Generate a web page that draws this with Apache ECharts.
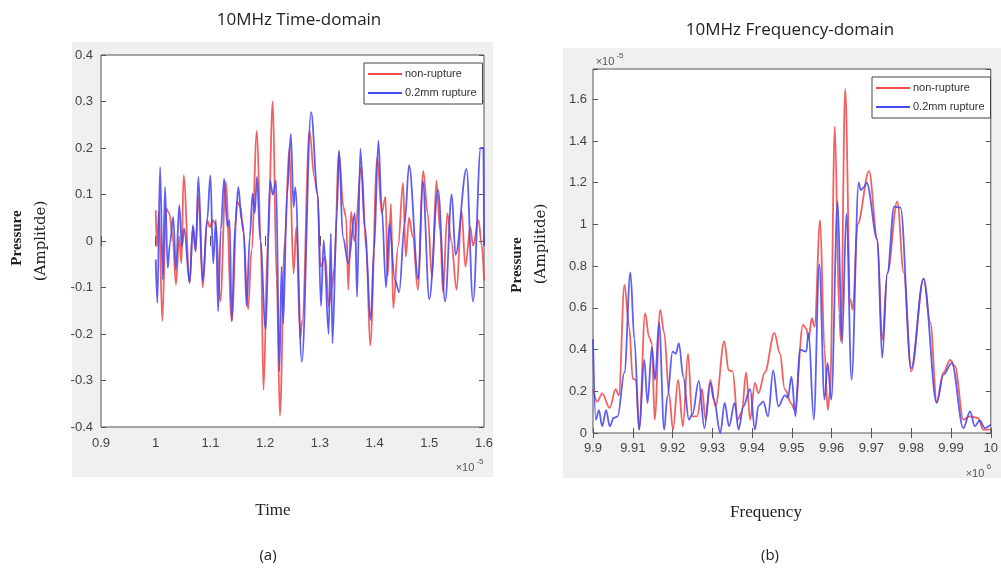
<!DOCTYPE html>
<html>
<head>
<meta charset="utf-8">
<script src="https://cdn.jsdelivr.net/npm/echarts@6/dist/echarts.min.js"></script>
<style>html,body{margin:0;padding:0;background:#fff;}#c{width:1001px;height:575px;}</style>
</head>
<body>
<div id="c"></div>
<script>
// ---- Time domain (t in 1e-5 s, pressure amplitude) ----
const timeNonRupture = [
[1.000,0.066],[1.002,-0.012],[1.006,0.063],[1.012,-0.172],[1.019,0.070],[1.025,0.059],[1.031,0.009],[1.037,-0.094],
[1.043,0.010],[1.047,-0.048],[1.051,0.141],[1.062,-0.090],[1.068,0.030],[1.073,-0.020],[1.078,0.098],[1.086,-0.100],
[1.094,0.045],[1.099,0.030],[1.104,0.045],[1.110,0.035],[1.118,-0.130],[1.128,0.127],[1.139,-0.172],[1.149,0.084],
[1.155,0.073],[1.160,0.020],[1.169,-0.147],[1.175,-0.020],[1.185,0.237],[1.192,0.000],[1.197,-0.320],[1.205,0.000],
[1.214,0.300],[1.221,-0.083],[1.227,-0.376],[1.236,0.000],[1.244,0.200],[1.252,-0.070],[1.257,0.030],[1.264,-0.210],
[1.268,-0.170],[1.281,0.237],[1.290,0.137],[1.296,0.100],[1.301,-0.055],[1.310,-0.034],[1.316,-0.140],[1.322,-0.100],
[1.326,-0.060],[1.335,0.190],[1.343,0.073],[1.348,0.050],[1.352,-0.105],[1.357,0.063],[1.363,0.000],[1.376,0.160],
[1.385,-0.020],[1.392,-0.225],[1.405,0.180],[1.413,0.060],[1.420,0.095],[1.424,-0.076],[1.430,0.080],[1.434,-0.145],
[1.443,-0.012],[1.452,0.125],[1.457,-0.034],[1.463,0.050],[1.470,0.009],[1.479,-0.105],[1.489,0.150],[1.497,0.060],
[1.505,-0.080],[1.513,0.130],[1.520,0.020],[1.525,-0.110],[1.533,0.060],[1.540,0.000],[1.550,-0.105],[1.559,0.065],
[1.566,-0.055],[1.575,0.030],[1.580,-0.010],[1.590,0.045],[1.596,-0.010],[1.600,-0.085]
];
const timeRupture = [
[1.000,-0.040],[1.003,-0.133],[1.008,0.159],[1.013,-0.083],[1.017,0.116],[1.022,-0.058],[1.026,-0.005],[1.032,0.052],
[1.037,-0.062],[1.043,0.077],[1.048,-0.012],[1.052,0.027],[1.062,-0.090],[1.068,0.034],[1.073,-0.023],[1.078,0.138],
[1.086,-0.087],[1.094,0.045],[1.100,0.141],[1.105,-0.048],[1.110,0.045],[1.114,-0.151],[1.119,0.024],[1.125,0.134],
[1.131,0.031],[1.135,0.045],[1.139,-0.172],[1.145,0.031],[1.151,0.116],[1.157,0.045],[1.161,0.020],[1.166,-0.140],
[1.172,0.009],[1.177,0.102],[1.181,0.060],[1.185,0.138],[1.191,0.002],[1.201,-0.190],[1.209,0.130],[1.214,0.100],
[1.220,0.130],[1.226,-0.280],[1.230,-0.055],[1.233,-0.177],[1.240,0.100],[1.247,0.230],[1.252,0.073],[1.255,0.116],
[1.267,-0.260],[1.284,0.277],[1.296,0.100],[1.302,-0.140],[1.307,0.002],[1.316,-0.200],[1.320,0.016],[1.323,-0.220],
[1.331,0.060],[1.335,0.195],[1.342,0.009],[1.352,-0.048],[1.364,0.060],[1.368,-0.120],[1.374,0.198],[1.382,0.030],
[1.393,-0.170],[1.399,-0.020],[1.407,0.216],[1.413,0.073],[1.421,-0.100],[1.427,0.038],[1.437,-0.083],[1.445,-0.110],
[1.455,0.038],[1.463,0.163],[1.480,-0.083],[1.488,0.130],[1.500,-0.125],[1.516,0.110],[1.529,-0.130],[1.541,0.100],
[1.548,-0.030],[1.568,0.155],[1.580,-0.130],[1.594,0.200],[1.599,0.200],[1.600,-0.010]
];
// ---- Frequency domain (f in 1e6 Hz, amplitude in 1e-5) ----
const freqNonRupture = [
[9.9000,0.21],[9.9011,0.15],[9.9023,0.19],[9.9042,0.12],[9.9057,0.21],[9.9065,0.18],[9.9079,0.71],[9.9091,0.51],
[9.9100,0.26],[9.9108,0.255],[9.9116,0.016],[9.9131,0.575],[9.9141,0.46],[9.9148,0.43],[9.9155,0.064],[9.9169,0.59],
[9.9179,0.48],[9.9191,0.19],[9.9201,0.016],[9.9214,0.255],[9.9226,0.032],[9.9239,0.38],[9.9249,0.08],[9.9262,0.08],
[9.9274,0.21],[9.9283,0.064],[9.9295,0.255],[9.9308,0.128],[9.9330,0.44],[9.9341,0.30],[9.9351,0.295],[9.9364,0.064],
[9.9374,0.10],[9.9385,0.29],[9.9395,0.064],[9.9407,0.24],[9.9416,0.19],[9.9432,0.29],[9.9456,0.48],[9.9470,0.38],
[9.9482,0.21],[9.9499,0.14],[9.9507,0.11],[9.9528,0.52],[9.9536,0.50],[9.9542,0.45],[9.9550,0.55],[9.9557,0.51],
[9.9571,1.02],[9.9582,0.40],[9.9590,0.11],[9.9596,0.20],[9.9608,1.47],[9.9619,0.575],[9.9623,0.44],[9.9634,1.65],
[9.9647,0.64],[9.9653,0.59],[9.9665,1.00],[9.9694,1.255],[9.9715,0.926],[9.9727,0.445],[9.9740,0.766],[9.9765,1.11],
[9.9781,0.77],[9.9800,0.295],[9.9831,0.74],[9.9848,0.53],[9.9864,0.15],[9.9881,0.29],[9.9898,0.35],[9.9910,0.32],
[9.9931,0.064],[9.9948,0.08],[9.9968,0.072],[9.9981,0.016],[9.9998,0.016]
];
const freqRupture = [
[9.9000,0.45],[9.9007,0.064],[9.9015,0.11],[9.9023,0.032],[9.9033,0.11],[9.9042,0.032],[9.9052,0.072],[9.9062,0.08],
[9.9079,0.29],[9.9094,0.77],[9.9104,0.45],[9.9116,0.016],[9.9129,0.35],[9.9137,0.144],[9.9148,0.41],[9.9156,0.255],
[9.9166,0.53],[9.9179,0.016],[9.9187,0.176],[9.9200,0.39],[9.9208,0.38],[9.9216,0.43],[9.9227,0.27],[9.9241,0.064],
[9.9250,0.09],[9.9266,0.25],[9.9280,0.024],[9.9295,0.24],[9.9304,0.16],[9.9320,0.0],[9.9331,0.144],[9.9342,0.032],
[9.9356,0.144],[9.9366,0.016],[9.9378,0.128],[9.9395,0.21],[9.9407,0.016],[9.9416,0.13],[9.9428,0.15],[9.9440,0.08],
[9.9453,0.30],[9.9466,0.128],[9.9482,0.18],[9.9490,0.17],[9.9499,0.27],[9.9509,0.08],[9.9520,0.40],[9.9536,0.39],
[9.9542,0.48],[9.9555,0.064],[9.9569,0.81],[9.9582,0.16],[9.9590,0.335],[9.9599,0.16],[9.9615,1.11],[9.9626,0.43],
[9.9637,1.05],[9.9650,0.255],[9.9668,1.20],[9.9673,1.165],[9.9682,1.18],[9.9688,1.20],[9.9715,0.926],[9.9727,0.36],
[9.9740,0.766],[9.9757,1.085],[9.9773,1.08],[9.9800,0.31],[9.9831,0.74],[9.9864,0.144],[9.9881,0.28],[9.9902,0.335],
[9.9931,0.024],[9.9948,0.104],[9.9960,0.032],[9.9972,0.06],[9.9985,0.024],[10.000,0.04]
];
const seriesNames = ['non-rupture', '0.2mm rupture'];
const colors = ['#f04a4a', '#4848f0'];

const chart = echarts.init(document.getElementById('c'), null, {renderer: 'canvas'});
const axisCol = '#555';
const lblCol = '#444';
const sansFont = 'Liberation Sans';

function xAx(grid, min, max, interval, fmt, margin) {
  return [
    {gridIndex: grid, type: 'value', min, max, interval, position: 'bottom',
     axisLine: {show: false}, splitLine: {show: false},
     axisTick: {show: true, inside: true, length: 5, lineStyle: {color: axisCol}},
     axisLabel: {color: lblCol, fontSize: 13, fontFamily: sansFont, margin: margin, formatter: fmt, showMinLabel: true, showMaxLabel: true}},
    {gridIndex: grid, type: 'value', min, max, interval, position: 'top',
     axisLine: {show: false}, splitLine: {show: false},
     axisTick: {show: true, inside: true, length: 5, lineStyle: {color: axisCol}},
     axisLabel: {show: false}}
  ];
}
function yAx(grid, min, max, interval, fmt, margin) {
  return [
    {gridIndex: grid, type: 'value', min, max, interval, position: 'left',
     axisLine: {show: false}, splitLine: {show: false},
     axisTick: {show: true, inside: true, length: 5, lineStyle: {color: axisCol}},
     axisLabel: {color: lblCol, fontSize: 13, fontFamily: sansFont, margin: margin, formatter: fmt}},
    {gridIndex: grid, type: 'value', min, max, interval, position: 'right',
     axisLine: {show: false}, splitLine: {show: false},
     axisTick: {show: true, inside: true, length: 5, lineStyle: {color: axisCol}},
     axisLabel: {show: false}}
  ];
}
const fmt1 = v => String(+v.toFixed(1));
const fmt2 = v => String(+v.toFixed(2));
const fmtF = v => {
  const r = Math.round(v * 5) / 5;
  return Math.abs(r - v) < 1e-6 ? String(+r.toFixed(1)) : '';
};

function lineSeries(name, data, xi, yi, color) {
  return {name, type: 'line', data, xAxisIndex: xi, yAxisIndex: yi, smooth: 0.35, smoothMonotone: 'x',
          showSymbol: false, symbol: 'none', lineStyle: {color, width: 1.8, opacity: 0.88}, itemStyle: {color}};
}

function legend(left, top) {
  return {left, top, orient: 'vertical', data: seriesNames, icon: 'rect', itemWidth: 34, itemHeight: 2,
          itemGap: 5, padding: [4, 6, 4, 4], backgroundColor: '#fff', borderColor: '#444', borderWidth: 1,
          selectedMode: false,
          textStyle: {fontSize: 11, fontFamily: sansFont, color: '#333', lineHeight: 14, padding: [0, 0, 0, -2]}};
}

function txt(x, y, text, font, opts) {
  return Object.assign({type: 'text', x, y, z: 100,
    style: {text, font, fill: '#222', textAlign: 'center', textVerticalAlign: 'middle'}}, opts || {});
}
function small(x, y, text, size) {
  return {type: 'text', x, y, z: 100,
    style: {text, font: size + 'px "Liberation Sans"', fill: '#555', textAlign: 'center', textVerticalAlign: 'middle'}};
}

const option = {
  animation: false,
  backgroundColor: '#fff',
  grid: [
    {left: 101, top: 55, width: 383, height: 372, show: true, backgroundColor: '#fff', borderColor: axisCol, borderWidth: 1},
    {left: 593, top: 69, width: 401, height: 364, show: true, backgroundColor: '#fff', borderColor: axisCol, borderWidth: 1}
  ],
  xAxis: [...xAx(0, 0.9, 1.6, 0.1, fmt1, 10), ...xAx(1, 9.9, 10.0, 0.01, fmt2, 9)],
  yAxis: [...yAx(0, -0.4, 0.4, 0.1, fmt1, 8), ...yAx(1, 0, 1.745, 0.2, fmtF, 6)],
  legend: [legend(364, 63), legend(872, 77)],
  series: [
    lineSeries(seriesNames[0], timeNonRupture, 0, 0, colors[0]),
    lineSeries(seriesNames[1], timeRupture, 0, 0, colors[1]),
    lineSeries(seriesNames[0], freqNonRupture, 2, 2, colors[0]),
    lineSeries(seriesNames[1], freqRupture, 2, 2, colors[1])
  ],
  graphic: [
    {type: 'rect', shape: {x: 72, y: 42, width: 421, height: 435}, style: {fill: '#f0f0f0'}, z: -10, silent: true},
    {type: 'rect', shape: {x: 563, y: 48, width: 438, height: 430}, style: {fill: '#f0f0f0'}, z: -10, silent: true},
    txt(299, 20, '10MHz Time-domain', '17px "Open Sans"'),
    txt(790, 30, '10MHz Frequency-domain', '17px "Open Sans"'),
    txt(17, 238, 'Pressure', 'bold 15px "Liberation Serif"', {rotation: Math.PI / 2}),
    txt(41, 241, '(Amplitde)', '15px "DejaVu Serif"', {rotation: Math.PI / 2}),
    txt(517, 265, 'Pressure', 'bold 15px "Liberation Serif"', {rotation: Math.PI / 2}),
    txt(541, 244, '(Amplitde)', '15px "DejaVu Serif"', {rotation: Math.PI / 2}),
    txt(273, 511, 'Time', '17px "Liberation Serif"'),
    txt(766, 513, 'Frequency', '17px "Liberation Serif"'),
    txt(268, 556, '(a)', '15px "Open Sans"'),
    txt(770, 556, '(b)', '15px "Open Sans"'),
    small(465, 468, '\u00d710', 11), small(480, 462, '-5', 8),
    small(605, 62, '\u00d710', 11), small(620, 56, '-5', 8),
    small(975, 474, '\u00d710', 11), small(989, 467, '6', 8)
  ]
};
chart.setOption(option);
</script>
</body>
</html>
